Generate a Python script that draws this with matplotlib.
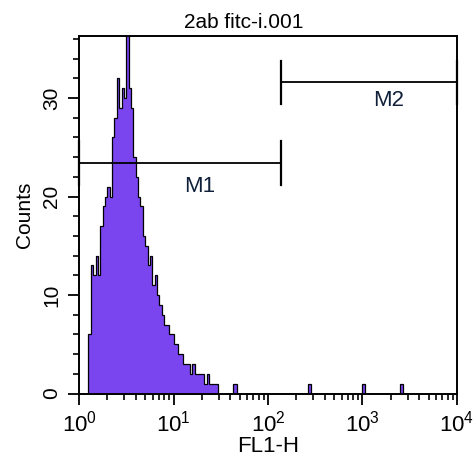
import numpy as np
import matplotlib
matplotlib.use('Agg')
import matplotlib.pyplot as plt
from matplotlib.ticker import MultipleLocator, LogLocator, NullFormatter

plt.rcParams['font.family'] = ['Liberation Sans', 'DejaVu Sans']

# histogram: 160 channels over 4 decades (0.025 decade each)
n_channels = 160
first_channel = 4
counts_main = [6, 13, 12, 14, 12, 17, 19, 20, 21, 20,
               26, 28, 32, 29, 31, 30, 40, 31, 29, 24,
               22, 20, 19, 16, 15, 13, 14, 11, 12, 10,
               9, 8, 7, 7, 6, 6, 5, 5, 4, 4,
               3, 3, 3, 2, 3, 2, 2, 2, 2, 1,
               2, 1, 1, 1, 1]
# sparse events further right: (channel, count)
sparse_events = [(65, 1), (66, 1), (97, 1), (120, 1), (136, 1)]

# markers: (name, start, end, level, label x, label y)
markers = [('M1', 1.0, 138.0, 23.4, 19.0, 21.0),
           ('M2', 138.0, 10000.0, 31.6, 1900.0, 29.7)]

title = '2ab fitc-i.001'
xlabel = 'FL1-H'
ylabel = 'Counts'

counts = np.zeros(n_channels)
counts[first_channel:first_channel + len(counts_main)] = counts_main
for ch, c in sparse_events:
    counts[ch] = c
edges = 10 ** (np.arange(n_channels + 1) * 4.0 / n_channels)

fig = plt.figure(figsize=(4.76, 4.59), dpi=100)
ax = fig.add_axes([0.166, 0.1427, 0.794, 0.7789])

ax.stairs(counts, edges, fill=True, color='#7a44ee', zorder=2)
ax.stairs(counts, edges, color='black', lw=0.9, zorder=3)

for name, x0, x1, lvl, lx, ly in markers:
    ax.plot([x0, x1], [lvl, lvl], color='black', lw=1.3, zorder=4, clip_on=False)
    for xe in (x0, x1):
        ax.plot([xe, xe], [lvl - 2.2, lvl + 2.2], color='black', lw=1.6, zorder=4, clip_on=False)
    ax.text(lx, ly, name, ha='center', va='center', fontsize=16, color='#10203a')

ax.set_xscale('log')
ax.set_xlim(1, 10000)
ax.set_ylim(0, 36.3)
ax.yaxis.set_major_locator(MultipleLocator(10))
ax.yaxis.set_minor_locator(MultipleLocator(2))
ax.xaxis.set_major_locator(LogLocator(base=10))
ax.xaxis.set_minor_locator(LogLocator(base=10, subs=np.arange(2, 10)))
ax.xaxis.set_minor_formatter(NullFormatter())

for s in ax.spines.values():
    s.set_linewidth(1.4)
ax.tick_params(which='major', direction='out', length=8, width=1.3, labelsize=16)
ax.tick_params(which='minor', direction='out', length=4.5, width=1.2)
ax.tick_params(axis='y', which='major', pad=5, labelsize=15)
ax.tick_params(axis='x', which='major', pad=4)
for lab in ax.get_yticklabels():
    lab.set_rotation(90)
    lab.set_va('center')

ax.set_title(title, x=0.436, fontsize=15, pad=6)
ax.set_xlabel(xlabel, fontsize=16, labelpad=0)
ax.set_ylabel(ylabel, fontsize=15, labelpad=6)

fig.savefig('out.png', dpi=100)
plt.close(fig)
